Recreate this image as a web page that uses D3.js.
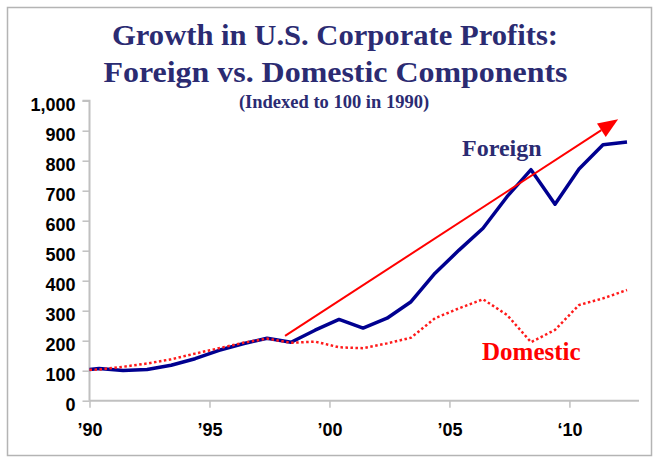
<!DOCTYPE html>
<html>
<head>
<meta charset="utf-8">
<script src="https://cdn.jsdelivr.net/npm/d3@7"></script>
<style>
  body { margin: 0; background: #fff; }
  svg { display: block; }
</style>
</head>
<body>
<div id="chart"></div>
<script>
(function() {

// data (index, 1990 = 100)
const years = [1990, 1990.4, 1991.4, 1992.4, 1993.4, 1994.4, 1995.4, 1996.4, 1997.4, 1998.4,
               1999.4, 2000.4, 2001.4, 2002.4, 2003.4, 2004.4, 2005.4, 2006.4, 2007.4, 2008.4,
               2009.4, 2010.4, 2011.4, 2012.4];
const foreign = [104, 107, 101, 104, 118, 140, 168, 190, 208, 195,
                 235, 271, 242, 275, 330, 425, 502, 575, 680, 770,
                 655, 772, 853, 862];
const domestic = [103, 104, 113, 124, 138, 157, 175, 193, 207, 193,
                  197, 178, 175, 191, 210, 275, 308, 338, 286, 195,
                  236, 319, 341, 369];
const xTicks = [1990, 1995, 2000, 2005, 2010];
const xTickLabels = ["\u201990", "\u201995", "\u201900", "\u201905", "\u201810"];
const yTicks = [0, 100, 200, 300, 400, 500, 600, 700, 800, 900, 1000];
const trendArrow = [{x: 1998.15, y: 216}, {x: 2012.03, y: 938}];

const W = 653, H = 458;
const navy = "#2b2b72";

let xScale = d3.scaleLinear().domain([1990, 2012.9]).range([89.5, 639]);
let yScale = d3.scaleLinear().domain([0, 1000]).range([400.7, 100.7]);

let line = d3.line()
    .x((d) => xScale(d.x))
    .y((d) => yScale(d.y));

let svg = d3.select("#chart").append("svg")
    .attr("width", W)
    .attr("height", H);

// outer frame
svg.append("rect")
    .attr("x", 7.5).attr("y", 7.5)
    .attr("width", 644).attr("height", 448)
    .attr("fill", "none")
    .attr("stroke", "#b4b4b4")
    .attr("stroke-width", 1.5);

// titles
let serif = "'Liberation Serif', 'Times New Roman', serif";
svg.append("text")
    .attr("x", 335).attr("y", 45)
    .attr("text-anchor", "middle")
    .attr("textLength", 446)
    .attr("lengthAdjust", "spacingAndGlyphs")
    .style("font", "bold 30px " + serif)
    .attr("fill", navy)
    .text("Growth in U.S. Corporate Profits:");
svg.append("text")
    .attr("x", 335.5).attr("y", 82)
    .attr("text-anchor", "middle")
    .attr("textLength", 464)
    .attr("lengthAdjust", "spacingAndGlyphs")
    .style("font", "bold 30px " + serif)
    .attr("fill", navy)
    .text("Foreign vs. Domestic Components");
svg.append("text")
    .attr("x", 334).attr("y", 108)
    .attr("text-anchor", "middle")
    .style("font", "bold 18.5px " + serif)
    .attr("fill", navy)
    .text("(Indexed to 100 in 1990)");

// y axis
let yAxis = svg.append("g")
    .attr("transform", "translate(" + xScale(1990) + ",0)")
    .call(d3.axisLeft(yScale).tickValues(yTicks).tickSize(7).tickPadding(7)
        .tickFormat(d3.format(",")));

// x axis
let xAxis = svg.append("g")
    .attr("transform", "translate(0," + yScale(0) + ")")
    .call(d3.axisBottom(xScale).tickValues(xTicks).tickSize(7).tickPadding(16)
        .tickFormat((d, i) => xTickLabels[i]));

[yAxis, xAxis].forEach((g) => {
    g.select(".domain").attr("stroke", "#c0c0c0").attr("stroke-width", 2);
    g.selectAll(".tick line").attr("stroke", "#c0c0c0").attr("stroke-width", 1.5);
    g.selectAll(".tick text")
        .attr("fill", "#000")
        .style("font", "bold 18px 'Liberation Sans', Arial, sans-serif");
});
yAxis.selectAll(".tick text").attr("dy", "0.55em");
xAxis.select(".domain").attr("d", "M" + xScale(1990) + ",0H" + xScale(2012.9));
yAxis.select(".domain").attr("d", "M-7," + yScale(1000) + "H0V" + yScale(0));

// series
let foreignData = years.map((y, i) => ({x: y, y: foreign[i]}));
let domesticData = years.map((y, i) => ({x: y, y: domestic[i]}));

svg.append("path")
    .datum(foreignData)
    .attr("fill", "none")
    .attr("stroke", "#000090")
    .attr("stroke-width", 3.5)
    .attr("stroke-linejoin", "round")
    .attr("d", line);

svg.append("path")
    .datum(domesticData)
    .attr("fill", "none")
    .attr("stroke", "#ff1a1a")
    .attr("stroke-width", 2.5)
    .attr("stroke-dasharray", "2.5,2.5")
    .attr("d", line);

// trend arrow
let p0 = trendArrow[0], p1 = trendArrow[1];
let x0 = xScale(p0.x), y0 = yScale(p0.y), x1 = xScale(p1.x), y1 = yScale(p1.y);
let ang = Math.atan2(y1 - y0, x1 - x0);
let headLen = 20, headHalf = 8;
let bx = x1 - headLen * Math.cos(ang), by = y1 - headLen * Math.sin(ang);
svg.append("line")
    .attr("x1", x0).attr("y1", y0)
    .attr("x2", bx).attr("y2", by)
    .attr("stroke", "#ff0000")
    .attr("stroke-width", 2);
svg.append("path")
    .attr("fill", "#ff0000")
    .attr("d", "M" + x1 + "," + y1 +
        "L" + (bx + headHalf * Math.sin(ang)) + "," + (by - headHalf * Math.cos(ang)) +
        "L" + (bx - headHalf * Math.sin(ang)) + "," + (by + headHalf * Math.cos(ang)) + "Z");

// series labels
svg.append("text")
    .attr("x", 462).attr("y", 156)
    .style("font", "bold 24px " + serif)
    .attr("fill", navy)
    .text("Foreign");
svg.append("text")
    .attr("x", 482).attr("y", 360)
    .style("font", "bold 25px " + serif)
    .attr("fill", "#ff0000")
    .text("Domestic");

})();
</script>
</body>
</html>
